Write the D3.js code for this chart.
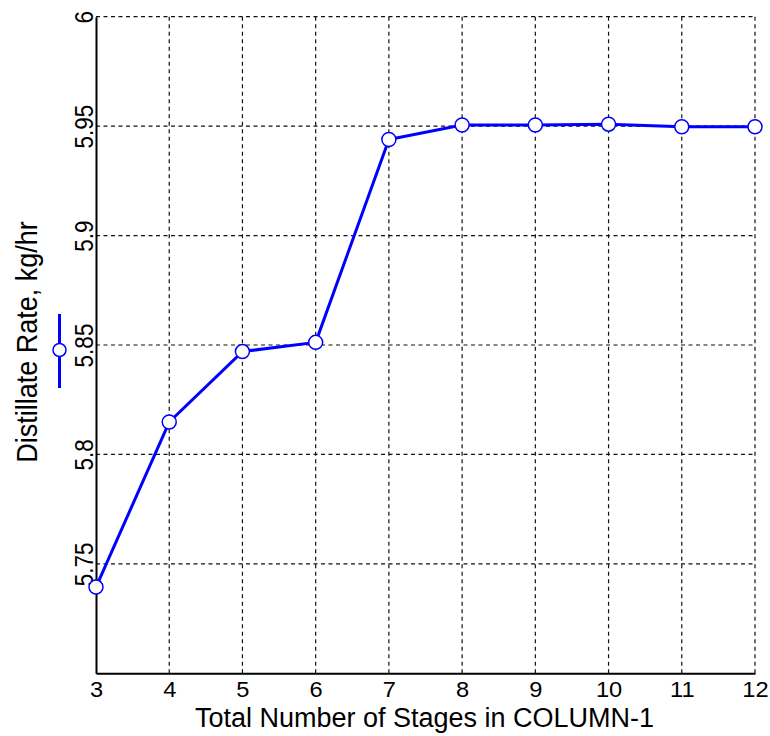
<!DOCTYPE html>
<html>
<head>
<meta charset="utf-8">
<script src="https://cdn.jsdelivr.net/npm/d3@7"></script>
<style>
  html, body { margin: 0; padding: 0; background: #ffffff; }
  svg { display: block; }
  text { font-family: "Liberation Sans", Arial, sans-serif; fill: #000; }
</style>
</head>
<body>
<svg id="chart" width="770" height="736"></svg>
<script>
// Number of stages in the column and the resulting distillate rate
const stages = [3, 4, 5, 6, 7, 8, 9, 10, 11, 12];
const distillateRate = [5.7394, 5.8148, 5.8470, 5.8512, 5.9439, 5.9505, 5.9505, 5.9509, 5.9497, 5.9497];
const yTicks = [5.75, 5.8, 5.85, 5.9, 5.95, 6];
const yTickLabels = ["5.75", "5.8", "5.85", "5.9", "5.95", "6"];
const xLabel = "Total Number of Stages in COLUMN-1";
const yLabel = "Distillate Rate, kg/hr";

const svg = d3.select("#chart");
const plotLeft = 96, plotRight = 755, plotTop = 16.7, plotBottom = 673.3;
const lineColor = "#0000ff";

const x = d3.scaleLinear().domain([3, 12]).range([plotLeft, plotRight]);
const y = d3.scaleLinear().domain([5.70, 6.0]).range([plotBottom, plotTop]);

// dashed grid
const grid = svg.append("g")
  .attr("stroke", "#111")
  .attr("stroke-width", 1.2)
  .attr("stroke-dasharray", "4,3.5")
  .attr("fill", "none");
grid.selectAll("line.v").data(stages.slice(1)).join("line")
  .attr("class", "v")
  .attr("x1", d => x(d)).attr("x2", d => x(d))
  .attr("y1", plotTop).attr("y2", plotBottom);
grid.selectAll("line.h").data(yTicks).join("line")
  .attr("class", "h")
  .attr("x1", plotLeft).attr("x2", plotRight)
  .attr("y1", d => y(d)).attr("y2", d => y(d));

// x axis
const xAxis = svg.append("g")
  .attr("transform", `translate(0,${plotBottom})`)
  .call(d3.axisBottom(x).tickValues(stages).tickFormat(d3.format("d")).tickSize(0).tickPadding(0));
xAxis.select(".domain").attr("stroke", "#000").attr("stroke-width", 2);
xAxis.selectAll(".tick text")
  .attr("font-size", 21.5)
  .attr("dy", null)
  .attr("y", 23.5)
  .attr("transform", "scale(1.1,1)")
  .style("font-family", "Liberation Sans, Arial, sans-serif")
  .attr("fill", "#000");

// y axis, labels rotated
const yAxis = svg.append("g")
  .attr("transform", `translate(${plotLeft},0)`)
  .call(d3.axisLeft(y).tickValues(yTicks).tickFormat((d, i) => yTickLabels[i]).tickSize(0).tickPadding(0));
yAxis.select(".domain").attr("stroke", "#000").attr("stroke-width", 2);
yAxis.selectAll(".tick text")
  .attr("font-size", 22.5)
  .attr("x", null).attr("dy", null)
  .attr("text-anchor", "middle")
  .attr("transform", "translate(-3.5,0) scale(1.12,1) rotate(-90)")
  .style("font-family", "Liberation Sans, Arial, sans-serif")
  .attr("fill", "#000");

// axis titles
svg.append("text")
  .attr("x", (plotLeft + plotRight) / 2 - 1)
  .attr("y", 727)
  .attr("text-anchor", "middle")
  .attr("font-size", 27)
  .text(xLabel);

svg.append("text")
  .attr("transform", `translate(37,${(plotTop + plotBottom) / 2 - 3}) scale(1.08,1) rotate(-90)`)
  .attr("text-anchor", "middle")
  .attr("font-size", 27)
  .text(yLabel);

// data line and markers
const line = d3.line().x((d, i) => x(stages[i])).y(d => y(d));
svg.append("path")
  .datum(distillateRate)
  .attr("d", line)
  .attr("fill", "none")
  .attr("stroke", lineColor)
  .attr("stroke-width", 3)
  .attr("stroke-linejoin", "round");

svg.selectAll("circle.pt").data(distillateRate).join("circle")
  .attr("class", "pt")
  .attr("cx", (d, i) => x(stages[i]))
  .attr("cy", d => y(d))
  .attr("r", 7)
  .attr("fill", "#fff")
  .attr("stroke", lineColor)
  .attr("stroke-width", 1.5);

// legend (vertical line with marker)
const legend = svg.append("g");
legend.append("line")
  .attr("x1", 59.5).attr("x2", 59.5)
  .attr("y1", 314).attr("y2", 388)
  .attr("stroke", lineColor)
  .attr("stroke-width", 3);
legend.append("circle")
  .attr("cx", 59.5).attr("cy", 350)
  .attr("r", 6.5)
  .attr("fill", "#fff")
  .attr("stroke", lineColor)
  .attr("stroke-width", 1.5);
</script>
</body>
</html>
